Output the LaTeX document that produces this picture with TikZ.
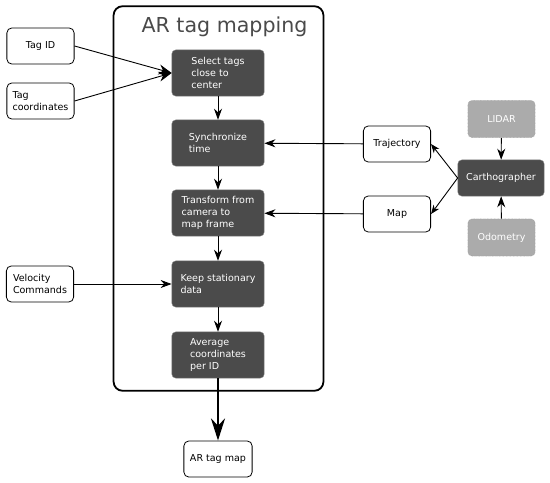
\documentclass[tikz,border=0pt]{standalone}
\usepackage{fontspec}
\setmainfont{DejaVu Sans}
\usetikzlibrary{arrows.meta}

\definecolor{stepgray}{HTML}{4B4B4B}
\definecolor{srcgray}{HTML}{ABABAB}
\definecolor{titlegray}{HTML}{4A4A4A}

\tikzset{
  boxfont/.style={font=\fontsize{9.5}{12.3}\selectfont},
  stepbox/.style={boxfont,draw=black!50,fill=stepgray,text=white,rounded corners=4pt,minimum width=92pt,minimum height=46pt,align=left,inner sep=2pt},
  iobox/.style={boxfont,draw=black,line width=0.8pt,fill=white,rounded corners=5pt,minimum width=67pt,minimum height=36pt,align=left,inner sep=2pt},
  srcbox/.style={boxfont,draw=black!40,densely dotted,fill=srcgray,text=white,rounded corners=4pt,minimum width=67pt,minimum height=37pt,inner sep=2pt},
  flow/.style={-{Stealth[length=11pt,width=8pt]},line width=0.9pt},
  bigflow/.style={-{Stealth[length=13pt,width=10pt]},line width=0.9pt},
  smallflow/.style={-{Stealth[length=9pt,width=7pt]},line width=0.9pt},
}

\begin{document}
\begin{tikzpicture}[x=0.035cm,y=-0.035cm]
\useasboundingbox (0,0) rectangle (550,483);

% outer frame and title
\node[draw,line width=1.8pt,rounded corners=9pt,minimum width=209pt,minimum height=383pt,inner sep=0pt] (frame) at (218.5,198.5) {};
\node[font=\fontsize{20.5}{24}\selectfont,text=titlegray,inner sep=0pt] (title) at (224.5,27) {AR tag mapping};

% processing chain
\node[stepbox] (select) at (218,73) {Select tags\\close to\\center};
\node[stepbox] (sync) at (218,143) {Synchronize\\time};
\node[stepbox] (transform) at (218,213) {Transform from\\camera to\\map frame};
\node[stepbox] (keep) at (218,284) {Keep stationary\\data};
\node[stepbox] (average) at (218,355) {Average\\coordinates\\per ID};

% inputs and output
\node[iobox] (tagid) at (40.5,46) {Tag ID};
\node[iobox] (tagcoord) at (40.5,101) {Tag\\coordinates};
\node[iobox] (velocity) at (40,284) {Velocity\\Commands};
\node[iobox,minimum width=68pt] (tagmap) at (218,459) {AR tag map};
\node[iobox] (trajectory) at (397,144) {Trajectory};
\node[iobox] (map) at (397,214) {Map};

% slam side
\node[stepbox,minimum width=86pt,minimum height=36pt] (carto) at (501,178) {Carthographer};
\node[srcbox] (lidar) at (501.5,119) {LIDAR};
\node[srcbox] (odom) at (501.5,237.5) {Odometry};

\draw[bigflow] (tagid.east) -- (select.west);
\draw[bigflow] (tagcoord.east) -- (select.west);
\draw[flow] (select) -- (sync);
\draw[flow] (sync) -- (transform);
\draw[flow] (transform) -- (keep);
\draw[flow] (keep) -- (average);
\draw[flow] (velocity) -- (keep);
\draw[flow] (trajectory) -- (sync);
\draw[flow] (map) -- (transform);
\draw[smallflow] (carto.west) -- (trajectory.east);
\draw[smallflow] (carto.west) -- (map.east);
\draw[flow] (lidar) -- (carto);
\draw[flow] (odom) -- (carto);
\draw[-{Stealth[length=22pt,width=14pt]},line width=2pt] (average) -- (tagmap);
\end{tikzpicture}
\end{document}
